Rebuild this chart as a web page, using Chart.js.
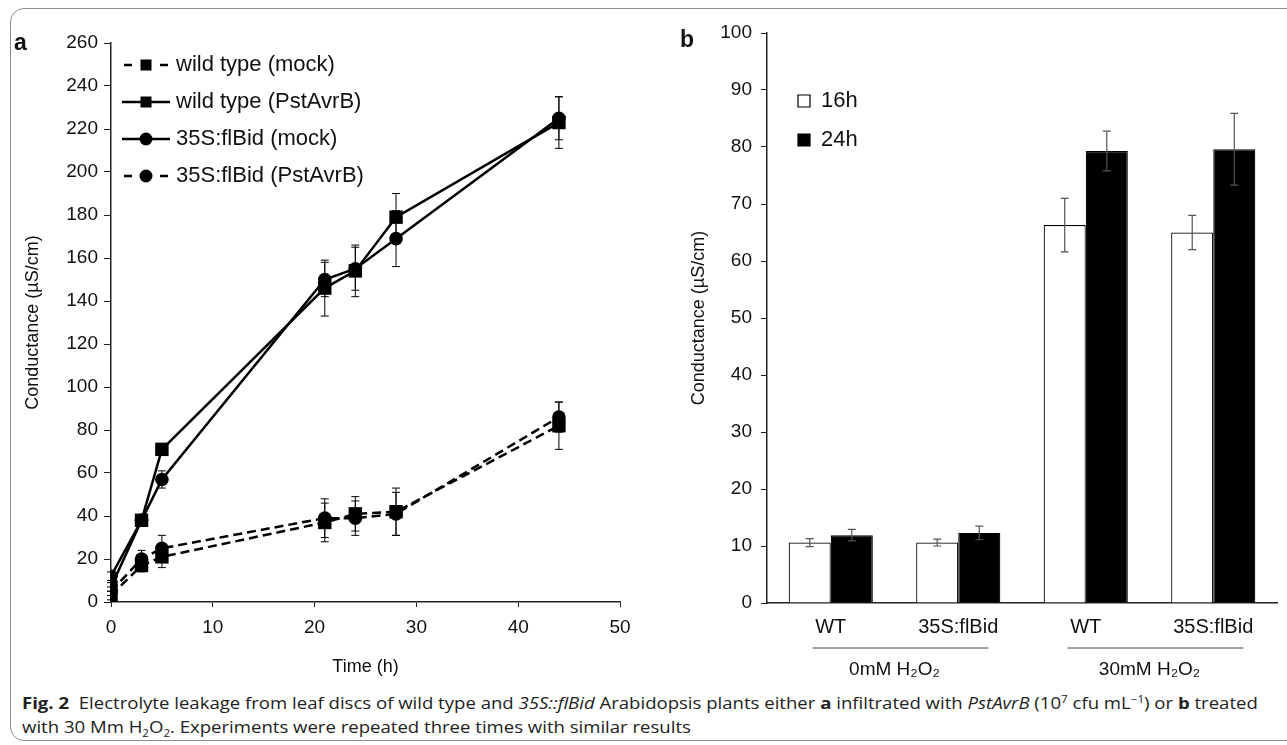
<!DOCTYPE html>
<html>
<head>
<meta charset="utf-8">
<script src="https://cdn.jsdelivr.net/npm/chart.js@4.4.1/dist/chart.umd.min.js"></script>
<style>
  body { margin: 0; background: #fff; width: 1287px; height: 745px; overflow: hidden; position: relative; font-family: "Liberation Sans", Arial, sans-serif; color: #111; }
  #frame { position: absolute; left: 10px; top: 8px; width: 1320px; height: 731px; border: 1px solid #8c8c8c; border-radius: 14px; }
  #wrapA { position: absolute; left: 0; top: 0; width: 650px; height: 690px; }
  #wrapB { position: absolute; left: 650px; top: 0; width: 637px; height: 690px; }
  .panel { position: absolute; font-weight: bold; font-size: 23px; }
  #caption { position: absolute; left: 22px; top: 691px; font-family: "Open Sans", "Noto Sans", sans-serif; font-size: 16px; line-height: 24px; color: #222; white-space: nowrap; transform: scaleX(1.16); transform-origin: 0 0; }
  #caption sup, #caption sub { font-size: 10px; line-height: 0; }
</style>
</head>
<body>
<div id="frame"></div>
<div id="wrapA"><canvas id="chartA"></canvas></div>
<div id="wrapB"><canvas id="chartB"></canvas></div>
<div class="panel" style="left:14px;top:29px;">a</div>
<div class="panel" style="left:680px;top:26px;">b</div>
<div id="caption"><b>Fig. 2</b>&nbsp; Electrolyte leakage from leaf discs of wild type and <i>35S::flBid</i> Arabidopsis plants either <b>a</b> infiltrated with <i>PstAvrB</i> (10<sup>7</sup> cfu mL<sup>−1</sup>) or <b>b</b> treated<br>with 30 Mm H<sub>2</sub>O<sub>2</sub>. Experiments were repeated three times with similar results</div>
<script>
// panel a: conductance over time
const hours = [0, 3, 5, 21, 24, 28, 44];
const wtMock = [3, 17, 21, 37, 41, 42, 82];
const wtMockErr = [2, 3, 5, 9, 8, 11, 11];
const wtAvrB = [7, 38, 71, 146, 154, 179, 223];
const wtAvrBErr = [2, 2, 2, 13, 12, 11, 12];
const bidMock = [12, 38, 57, 150, 155, 169, 225];
const bidMockErr = [2, 2, 4, 8, 10, 13, 10];
const bidAvrB = [5, 20, 25, 39, 39, 41, 86];
const bidAvrBErr = [2, 4, 6, 9, 8, 10, 7];

// panel b: H2O2 treatment
const genotypes = ["WT", "35S:flBid", "WT", "35S:flBid"];
const treatments = ["0mM H₂O₂", "30mM H₂O₂"];
const leak16h = [10.6, 10.6, 66.3, 65.0];
const leak16hErr = [0.7, 0.6, 4.7, 3.0];
const leak24h = [11.9, 12.3, 79.3, 79.6];
const leak24hErr = [1.0, 1.2, 3.5, 6.3];

const FONT = "'Liberation Sans', Arial, sans-serif";
const INK = "#111";

// error bars from each dataset's errors array
const errorBars = {
  id: "errorBars",
  afterDatasetsDraw(chart, args, opts) {
    const ctx = chart.ctx;
    const y = chart.scales.y;
    ctx.save();
    ctx.strokeStyle = opts.color || "#000";
    ctx.lineWidth = opts.width || 1;
    chart.data.datasets.forEach((ds, i) => {
      if (!ds.errors) return;
      chart.getDatasetMeta(i).data.forEach((el, j) => {
        const d = ds.data[j];
        const v = typeof d === "object" ? d.y : d;
        const e = ds.errors[j];
        const top = y.getPixelForValue(v + e);
        const bot = y.getPixelForValue(v - e);
        const c = opts.cap || 4;
        ctx.beginPath();
        ctx.moveTo(el.x, top); ctx.lineTo(el.x, bot);
        ctx.moveTo(el.x - c, top); ctx.lineTo(el.x + c, top);
        ctx.moveTo(el.x - c, bot); ctx.lineTo(el.x + c, bot);
        ctx.stroke();
      });
    });
    ctx.restore();
  }
};

// move the in-plot legend a bit
const legendShift = {
  id: "legendShift",
  afterLayout(chart, args, opts) {
    if (!chart.legend) return;
    chart.legend.left += opts.dx || 0;
    chart.legend.top += opts.dy || 0;
  }
};

// lines over the treatment groups
const groupLines = {
  id: "groupLines",
  afterDraw(chart) {
    const x2 = chart.scales.x2;
    const x = chart.scales.x;
    if (!x2) return;
    const ctx = chart.ctx;
    const pitch = x.width / genotypes.length;
    const yLine = chart.chartArea.bottom + 45;
    ctx.save();
    ctx.strokeStyle = "#444";
    ctx.lineWidth = 1;
    treatments.forEach((t, i) => {
      const cx = x2.getPixelForTick(i) + 6;
      ctx.beginPath();
      ctx.moveTo(cx - pitch * 0.69, yLine);
      ctx.lineTo(cx + pitch * 0.69, yLine);
      ctx.stroke();
    });
    ctx.restore();
  }
};

function legendIcon(shape, dashed) {
  const c = document.createElement("canvas");
  c.width = 48; c.height = 20;
  const g = c.getContext("2d");
  g.strokeStyle = "#000"; g.fillStyle = "#000"; g.lineWidth = 2.5;
  g.beginPath();
  if (dashed) {
    g.moveTo(2, 10); g.lineTo(10, 10);
    g.moveTo(38, 10); g.lineTo(46, 10);
  } else {
    g.moveTo(0, 10); g.lineTo(48, 10);
  }
  g.stroke();
  if (shape === "rect") {
    g.fillRect(18.5, 4.5, 11, 11);
  } else {
    g.beginPath(); g.arc(24, 10, 6.5, 0, Math.PI * 2); g.fill();
  }
  return c;
}

function series(label, values, errors, shape, dashed) {
  return {
    label: label,
    data: hours.map((h, i) => ({ x: h, y: values[i] })),
    errors: errors,
    borderColor: "#000",
    backgroundColor: "#000",
    borderWidth: 2.5,
    borderDash: dashed ? [9, 5] : [],
    pointStyle: shape,
    pointRadius: shape === "rect" ? 9.5 : 6.8,
    pointBorderWidth: 0,
    icon: legendIcon(shape, dashed),
    tension: 0
  };
}

new Chart(document.getElementById("chartA"), {
  type: "line",
  data: {
    datasets: [
      series("wild type (mock)", wtMock, wtMockErr, "rect", true),
      series("wild type (PstAvrB)", wtAvrB, wtAvrBErr, "rect", false),
      series("35S:flBid (mock)", bidMock, bidMockErr, "circle", false),
      series("35S:flBid (PstAvrB)", bidAvrB, bidAvrBErr, "circle", true)
    ]
  },
  plugins: [errorBars, legendShift],
  options: {
    responsive: true,
    maintainAspectRatio: false,
    animation: false,
    layout: { padding: { left: 0, top: 43, right: 30, bottom: 0 } },
    plugins: {
      legend: {
        position: "chartArea",
        align: "start",
        labels: {
          usePointStyle: true,
          pointStyleWidth: 38,
          padding: 15,
          color: INK,
          font: { family: FONT, size: 22 },
          generateLabels(chart) {
            return chart.data.datasets.map((ds, i) => ({
              text: ds.label,
              pointStyle: ds.icon,
              datasetIndex: i,
              lineWidth: 0,
              fillStyle: "#000",
              strokeStyle: "#000",
              fontColor: INK
            }));
          }
        }
      },
      legendShift: { dx: 1, dy: 39 },
      errorBars: { color: "#000", width: 1, cap: 4 },
      tooltip: { enabled: false }
    },
    scales: {
      x: {
        type: "linear",
        min: 0, max: 50,
        ticks: { stepSize: 10, color: INK, padding: 9, font: { family: FONT, size: 19 } },
        grid: { display: true, drawOnChartArea: false, drawTicks: true, tickLength: 5, color: "#222" },
        border: { display: true, color: "#222", width: 1.5 },
        title: { display: true, text: "Time (h)", color: INK, font: { family: FONT, size: 18 }, padding: { top: 4, bottom: 12 } },
        afterFit(scale) { scale.height = 88; }
      },
      y: {
        min: 0, max: 260,
        ticks: { stepSize: 20, color: INK, padding: 6, font: { family: FONT, size: 19 } },
        grid: { display: true, drawOnChartArea: false, drawTicks: true, tickLength: 7, color: "#222" },
        border: { display: true, color: "#222", width: 1.5 },
        title: { display: true, text: "Conductance (µS/cm)", color: INK, font: { family: FONT, size: 18 }, padding: { top: 22, bottom: 0 } },
        afterFit(scale) { scale.width = 111; }
      }
    }
  }
});

new Chart(document.getElementById("chartB"), {
  type: "bar",
  data: {
    labels: genotypes,
    datasets: [
      { label: "16h", data: leak16h, errors: leak16hErr, backgroundColor: "#fff", borderColor: "#000", borderWidth: 1.2 },
      { label: "24h", data: leak24h, errors: leak24hErr, backgroundColor: "#000", borderColor: "#000", borderWidth: 1.2 }
    ]
  },
  plugins: [errorBars, legendShift, groupLines],
  options: {
    responsive: true,
    maintainAspectRatio: false,
    animation: false,
    categoryPercentage: 0.66,
    barPercentage: 1,
    layout: { padding: { left: 0, top: 33, right: 10, bottom: 8 } },
    plugins: {
      legend: {
        position: "chartArea",
        align: "start",
        labels: {
          boxWidth: 12,
          boxHeight: 12,
          padding: 17,
          color: INK,
          font: { family: FONT, size: 22 }
        }
      },
      legendShift: { dx: 14, dy: 73 },
      errorBars: { color: "#555", width: 1.2, cap: 4 },
      tooltip: { enabled: false }
    },
    scales: {
      x: {
        ticks: { color: INK, padding: 12, font: { family: FONT, size: 20 } },
        grid: { display: false, drawTicks: false },
        border: { display: true, color: "#222", width: 1.5 },
        afterFit(scale) { scale.height = 37; }
      },
      x2: {
        type: "category",
        position: "bottom",
        labels: treatments,
        offset: true,
        ticks: { color: INK, padding: 18, font: { family: FONT, size: 19 } },
        grid: { display: false, drawTicks: false },
        border: { display: false },
        afterFit(scale) { scale.height = 42; }
      },
      y: {
        min: 0, max: 100,
        ticks: { stepSize: 10, color: INK, padding: 9, font: { family: FONT, size: 19 } },
        grid: { display: true, drawOnChartArea: false, drawTicks: true, tickLength: 6, color: "#222" },
        border: { display: true, color: "#222", width: 1.5 },
        title: { display: true, text: "Conductance (µS/cm)", color: INK, font: { family: FONT, size: 18 }, padding: { top: 38, bottom: 0 } },
        afterFit(scale) { scale.width = 117; }
      }
    }
  }
});
</script>
</body>
</html>
